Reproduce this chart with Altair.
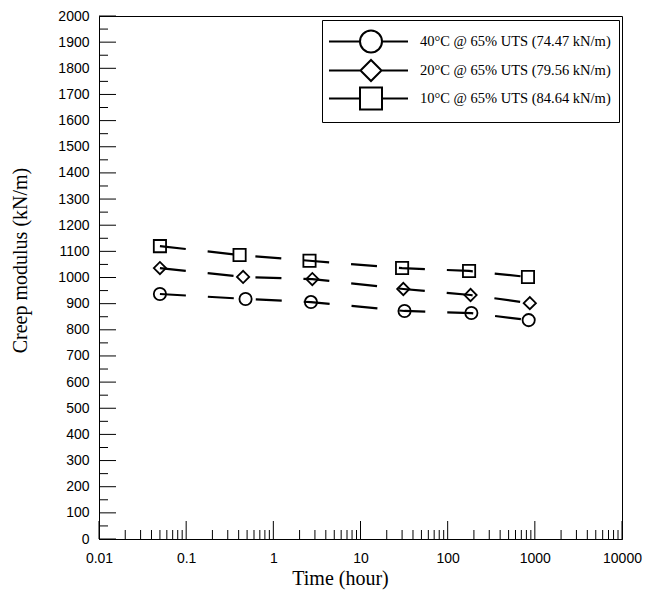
import altair as alt
import pandas as pd

# ---- data ----
series = [
    "40°C @ 65% UTS (74.47 kN/m)",
    "20°C @ 65% UTS (79.56 kN/m)",
    "10°C @ 65% UTS (84.64 kN/m)",
]
t_40 = [0.05, 0.48, 2.7, 32, 187, 850]
E_40 = [937, 918, 906, 872, 864, 837]
t_20 = [0.05, 0.45, 2.8, 31, 183, 876]
E_20 = [1036, 1002, 994, 956, 933, 902]
t_10 = [0.05, 0.41, 2.6, 30, 176, 834]
E_10 = [1120, 1086, 1064, 1036, 1025, 1002]

x_major = [0.01, 0.1, 1, 10, 100, 1000, 10000]
x_minor = [round(m * d, 6) for d in [0.01, 0.1, 1, 10, 100, 1000] for m in range(2, 10)]
y_major = list(range(0, 2001, 100))
y_minor = list(range(50, 2000, 100))

rows = []
for name, ts, es in zip(series, [t_40, t_20, t_10], [E_40, E_20, E_10]):
    for t, e in zip(ts, es):
        rows.append({"series": name, "leg": name, "t": t, "E": e})
df = pd.DataFrame(rows)

# ---- legend symbols: line with marker in the middle (custom paths) ----
SYM = 625          # legend symbol size -> unit = sqrt(SYM)/2 = 12.5 px
u = 12.5
c = 27.5 / u       # marker centre relative to symbol centre
L = -14.5 / u      # left end of line
R = 64.5 / u       # right end of line
def f(v):
    return f"{v:.3f}"
rc = 11 / u
p_circle = (f"M{f(L)},0H{f(c-rc)}M{f(c+rc)},0H{f(R)}"
            f"M{f(c-rc)},0A{f(rc)},{f(rc)},0,1,1,{f(c+rc)},0A{f(rc)},{f(rc)},0,1,1,{f(c-rc)},0")
d = 10.5 / u
p_diamond = (f"M{f(L)},0H{f(c-d)}M{f(c+d)},0H{f(R)}"
             f"M{f(c-d)},0L{f(c)},{f(-d)}L{f(c+d)},0L{f(c)},{f(d)}Z")
s = 11 / u
p_square = (f"M{f(L)},0H{f(c-s)}M{f(c+s)},0H{f(R)}"
            f"M{f(c-s)},{f(-s)}H{f(c+s)}V{f(s)}H{f(c-s)}Z")

x_scale = alt.Scale(type="log", domain=[0.01, 10000], nice=False)
y_scale = alt.Scale(domain=[0, 2000], nice=False)

x_axis = alt.Axis(
    values=x_major, ticks=False, labelPadding=12, grid=False,
    labelExpr="datum.value < 1 ? format(datum.value, '.2~f') : format(datum.value, 'd')",
    labelFont="Liberation Sans", labelFontSize=14, labelColor="black",
    labelFlush=False, labelOverlap=False,
    title="Time (hour)", titleFont="Liberation Serif", titleFontSize=20,
    titleFontWeight="normal", titleColor="black", titlePadding=3, titleX=241,
    domainColor="black", domainWidth=1,
)
y_axis = alt.Axis(
    values=y_major, ticks=False, labelPadding=10, grid=False, format="d",
    labelFont="Liberation Sans", labelFontSize=14, labelColor="black",
    labelFlush=False, labelOverlap=False,
    title="Creep modulus (kN/m)", titleFont="Liberation Serif", titleFontSize=20,
    titleFontWeight="normal", titleColor="black", titlePadding=27, titleY=244,
    domainColor="black", domainWidth=1,
)

X = lambda: alt.X("t:Q", scale=x_scale, axis=x_axis)
Y = lambda: alt.Y("E:Q", scale=y_scale, axis=y_axis)

base = alt.Chart(df)

lines = base.mark_line(color="black", strokeWidth=2.2, strokeDash=[26, 22]).encode(
    x=X(), y=Y(), detail="series:N", order="t:Q",
)

points = base.mark_point(filled=False, color="black", size=150, strokeWidth=1.8, opacity=1).encode(
    x=X(), y=Y(),
    shape=alt.Shape("series:N", scale=alt.Scale(domain=series, range=["circle", "diamond", "square"]), legend=None),
)

legend_layer = base.mark_point(filled=False, color="black", size=SYM, strokeWidth=2, opacity=0).encode(
    x=X(), y=Y(),
    shape=alt.Shape(
        "leg:N",
        scale=alt.Scale(domain=series, range=[p_circle, p_diamond, p_square]),
        legend=alt.Legend(
            title=None, orient="none", legendX=223, legendY=4,
            strokeColor="black", fillColor="white", padding=8,
            symbolSize=SYM, symbolStrokeWidth=2, symbolStrokeColor="black",
            symbolFillColor="transparent", symbolOpacity=1,
            labelFont="Liberation Serif", labelFontSize=14.5, labelColor="black",
            labelOffset=63, rowPadding=-2.5, labelLimit=0,
        ),
    ),
)

yt_major = alt.Chart(pd.DataFrame({"E": y_major})).mark_tick(
    orient="horizontal", size=17, thickness=1, color="black", xOffset=8.5, opacity=1
).encode(x=alt.X(datum=0.01, scale=x_scale, axis=x_axis), y=Y())
yt_minor = alt.Chart(pd.DataFrame({"E": y_minor})).mark_tick(
    orient="horizontal", size=9, thickness=1, color="black", xOffset=4.5, opacity=1
).encode(x=alt.X(datum=0.01, scale=x_scale, axis=x_axis), y=Y())
xt_major = alt.Chart(pd.DataFrame({"t": x_major})).mark_tick(
    orient="vertical", size=18, thickness=1, color="black", yOffset=-9, opacity=1
).encode(x=X(), y=alt.Y(datum=0, scale=y_scale, axis=y_axis))
xt_minor = alt.Chart(pd.DataFrame({"t": x_minor})).mark_tick(
    orient="vertical", size=9, thickness=1, color="black", yOffset=-4.5, opacity=1
).encode(x=X(), y=alt.Y(datum=0, scale=y_scale, axis=y_axis))

chart = alt.layer(
    lines, points, legend_layer, yt_major, yt_minor, xt_major, xt_minor
).resolve_scale(shape="independent").properties(
    width=523, height=523,
    autosize=alt.AutoSizeParams(type="none"),
    padding={"left": 91, "top": 8, "right": 25, "bottom": 60},
    background="white",
).configure_view(stroke="black", strokeWidth=1)

chart.save("out.html", embed_options={"renderer": "svg", "actions": False})
